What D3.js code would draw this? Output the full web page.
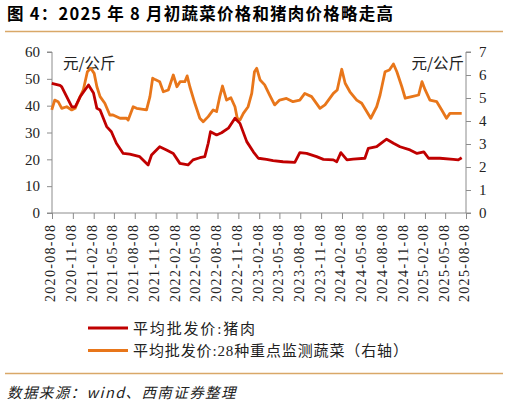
<!DOCTYPE html>
<html>
<head>
<meta charset="utf-8">
<script src="https://cdn.jsdelivr.net/npm/d3@7"></script>
<style>
  body { margin: 0; background: #fff; }
  svg { display: block; }
  .tick text { font-family: "Liberation Serif", "Noto Sans CJK SC", serif; }
</style>
</head>
<body>
<div id="chart"></div>
<script>
// DATA
// pork wholesale price, yuan/kg (left axis)
const porkDates = ['2020-08-07','2020-09-12','2020-09-20','2020-11-03','2020-11-18','2020-12-10','2021-01-16','2021-02-07','2021-02-22','2021-03-08','2021-04-06','2021-04-27','2021-05-19','2021-06-18','2021-07-17','2021-08-30','2021-10-06','2021-10-21','2021-11-26','2021-12-26','2022-01-25','2022-02-23','2022-03-31','2022-04-22','2022-05-22','2022-06-13','2022-06-28','2022-07-08','2022-08-04','2022-08-26','2022-09-25','2022-10-24','2022-11-15','2022-12-15','2023-01-13','2023-02-04','2023-03-12','2023-04-10','2023-05-24','2023-07-15','2023-08-06','2023-09-05','2023-10-19','2023-11-18','2024-01-01','2024-01-16','2024-02-03','2024-03-01','2024-03-28','2024-05-19','2024-06-03','2024-07-10','2024-08-08','2024-08-23','2024-09-22','2024-10-21','2024-12-04','2025-01-04','2025-02-03','2025-02-24','2025-04-15','2025-06-13','2025-07-05','2025-07-20'];
const porkValues = [48.3,47.6,47,39.6,39.5,43.3,47.7,44.7,39,38.4,32.2,30.3,26,22.2,21.9,21,17.9,21.6,24.7,23.5,22.2,18.5,17.9,19.8,20.6,21,26,30.3,29.1,29.9,31.6,35.3,33.4,26.6,22.8,20.4,20,19.5,19.1,18.9,22.5,22.2,21,20,19.8,19.1,22.5,19.8,20.1,20.4,24.1,24.7,26.6,27.5,26,24.7,23.5,22.2,22.8,20.4,20.4,20,19.8,20.6];

// 28 key vegetables wholesale price, yuan/kg (right axis)
const vegDates = ['2020-08-07','2020-08-20','2020-09-04','2020-09-20','2020-10-12','2020-11-03','2020-11-18','2020-12-10','2020-12-24','2021-01-11','2021-01-26','2021-02-10','2021-02-22','2021-03-08','2021-03-29','2021-04-20','2021-05-04','2021-06-04','2021-07-03','2021-07-10','2021-08-01','2021-08-16','2021-09-29','2021-10-14','2021-10-26','2021-11-06','2021-11-26','2021-12-12','2022-01-03','2022-01-25','2022-02-10','2022-02-24','2022-03-17','2022-03-27','2022-04-08','2022-04-30','2022-05-22','2022-06-06','2022-06-28','2022-07-20','2022-08-04','2022-08-18','2022-08-30','2022-09-17','2022-10-06','2022-10-24','2022-11-03','2022-11-15','2022-11-30','2022-12-21','2023-01-06','2023-01-18','2023-01-28','2023-02-12','2023-03-04','2023-03-26','2023-04-17','2023-05-09','2023-06-08','2023-07-07','2023-08-06','2023-08-28','2023-09-27','2023-11-03','2023-11-25','2024-01-01','2024-01-18','2024-02-07','2024-02-22','2024-03-14','2024-04-13','2024-05-05','2024-05-27','2024-06-14','2024-07-10','2024-07-25','2024-08-16','2024-09-04','2024-09-22','2024-10-07','2024-10-29','2024-11-13','2024-12-12','2025-01-11','2025-01-26','2025-02-09','2025-03-02','2025-04-01','2025-04-23','2025-05-14','2025-05-29','2025-07-20'];
const vegValues = [4.48,4.91,4.84,4.55,4.62,4.48,4.55,5.06,5.35,6.14,6.29,6.07,5.49,5.06,4.77,4.26,4.26,4.12,4.12,4.04,4.62,4.55,4.48,5.06,5.86,5.8,5.71,5.27,5.35,6.0,5.49,5.71,5.71,5.96,5.49,4.77,4.12,3.97,4.19,4.48,4.41,5.06,5.52,4.91,5.01,4.62,4.12,4.04,4.33,4.62,5.2,6.14,6.29,5.78,5.57,5.13,4.7,4.91,4.98,4.84,4.91,5.2,5.06,4.55,4.7,5.2,5.35,6.25,5.64,5.27,4.91,4.77,4.41,4.12,4.62,5.13,6.14,6.22,6.48,6.14,5.49,4.99,5.06,5.13,5.71,5.35,4.91,4.84,4.48,4.12,4.33,4.33];

// axis ticks
const leftTicks = [0, 10, 20, 30, 40, 50, 60];
const rightTicks = [0, 1, 2, 3, 4, 5, 6, 7];
const xTickLabels = ['2020-08-08','2020-11-08','2021-02-08','2021-05-08','2021-08-08','2021-11-08','2022-02-08','2022-05-08','2022-08-08','2022-11-08','2023-02-08','2023-05-08','2023-08-08','2023-11-08','2024-02-08','2024-05-08','2024-08-08','2024-11-08','2025-02-08','2025-05-08','2025-08-08'];

const legendNames = ['平均批发价:猪肉', '平均批发价:28种重点监测蔬菜（右轴）'];

// SETUP
const W = 508, H = 405;
const colRed = '#C00000';
const colOrange = '#E8761A';
const colRule = '#D9A868';
const colAxis = '#8C8C8C';

const svg = d3.select('#chart').append('svg').attr('width', W).attr('height', H);

const parse = d3.timeParse('%Y-%m-%d');
const fmt = d3.timeFormat('%Y-%m-%d');

const plot = { l: 52, r: 466, t: 52, b: 213 };

const x = d3.scaleTime()
  .domain([parse(xTickLabels[0]), parse(xTickLabels[xTickLabels.length - 1])])
  .range([plot.l, plot.r]);
const yL = d3.scaleLinear().domain([0, 60]).range([plot.b, plot.t]);
const yR = d3.scaleLinear().domain([0, 7]).range([plot.b, plot.t]);

// title
svg.append('text')
  .attr('x', 7).attr('y', 20)
  .attr('font-family', '"Noto Sans CJK SC", sans-serif')
  .attr('font-weight', 'bold')
  .attr('font-size', 16.5)
  .attr('textLength', 386).attr('lengthAdjust', 'spacing')
  .attr('fill', '#000')
  .text('图 4：2025 年 8 月初蔬菜价格和猪肉价格略走高');

svg.append('line').attr('x1', 5).attr('x2', 503).attr('y1', 31.5).attr('y2', 31.5)
  .attr('stroke', colRule).attr('stroke-width', 1.3);

// axes
const axL = d3.axisLeft(yL).tickValues(leftTicks).tickSize(5).tickPadding(7).tickFormat(d3.format('d'));
const axR = d3.axisRight(yR).tickValues(rightTicks).tickSize(5).tickPadding(8).tickFormat(d3.format('d'));
const axX = d3.axisBottom(x).tickValues(xTickLabels.map(parse)).tickSize(6).tickFormat(fmt);

function styleAxis(g) {
  g.select('.domain').attr('stroke', colAxis);
  g.selectAll('.tick line').attr('stroke', colAxis);
  g.selectAll('.tick text').attr('fill', '#222').attr('font-size', 15);
}

svg.append('g').attr('transform', `translate(${plot.l},0)`).call(axL).call(styleAxis)
  .call(g => g.select('.domain').attr('d', `M-5,${plot.t}H0V${plot.b}H-5`));
svg.append('g').attr('transform', `translate(${plot.r},0)`).call(axR).call(styleAxis)
  .call(g => g.select('.domain').attr('d', `M5,${plot.t}H0V${plot.b}H5`));
const gx = svg.append('g').attr('transform', `translate(0,${plot.b})`).call(axX).call(styleAxis);
gx.select('.domain').attr('d', `M${plot.l},0H${plot.r}`);
gx.selectAll('.tick text')
  .attr('font-size', 14)
  .attr('text-anchor', 'end')
  .attr('transform', 'rotate(-90)')
  .attr('x', -12).attr('y', -2).attr('dy', '0.35em')
  .attr('textLength', 77).attr('lengthAdjust', 'spacing');

// unit labels
svg.append('text').attr('x', 63).attr('y', 69)
  .attr('font-family', '"Noto Sans CJK SC", sans-serif').attr('font-size', 15.5)
  .attr('fill', '#222').text('元/公斤');
svg.append('text').attr('x', 464).attr('y', 69).attr('text-anchor', 'end')
  .attr('font-family', '"Noto Sans CJK SC", sans-serif').attr('font-size', 15.5)
  .attr('fill', '#222').text('元/公斤');

// lines
const porkData = porkDates.map((d, i) => ({ date: parse(d), v: porkValues[i] }));
const vegData = vegDates.map((d, i) => ({ date: parse(d), v: vegValues[i] }));

const lineL = d3.line().x(d => x(d.date)).y(d => yL(d.v));
const lineR = d3.line().x(d => x(d.date)).y(d => yR(d.v));

svg.append('path').datum(vegData).attr('d', lineR)
  .attr('fill', 'none').attr('stroke', colOrange).attr('stroke-width', 2.8).attr('stroke-linejoin', 'round');
svg.append('path').datum(porkData).attr('d', lineL)
  .attr('fill', 'none').attr('stroke', colRed).attr('stroke-width', 2.8).attr('stroke-linejoin', 'round');

// legend
const legend = svg.append('g');
const legendLen = [122, 275];
[colRed, colOrange].forEach(function(c, i) {
  const ly = 328 + i * 22.5;
  legend.append('line').attr('x1', 88).attr('x2', 128).attr('y1', ly).attr('y2', ly)
    .attr('stroke', c).attr('stroke-width', 3);
  legend.append('text').attr('x', 133).attr('y', ly + 5.5)
    .attr('font-family', '"Liberation Serif", "Noto Sans CJK SC", serif').attr('font-size', 15)
    .attr('textLength', legendLen[i]).attr('lengthAdjust', 'spacing')
    .attr('fill', '#222').text(legendNames[i]);
});

// bottom rule & source
svg.append('line').attr('x1', 5).attr('x2', 503).attr('y1', 373.5).attr('y2', 373.5)
  .attr('stroke', colRule).attr('stroke-width', 1.3);
svg.append('text').attr('x', 7).attr('y', 398)
  .attr('font-family', '"Noto Sans CJK SC", sans-serif').attr('font-size', 14.5)
  .attr('font-style', 'italic').attr('fill', '#222')
  .attr('letter-spacing', 1.4)
  .text('数据来源：wind、西南证券整理');
</script>
</body>
</html>
